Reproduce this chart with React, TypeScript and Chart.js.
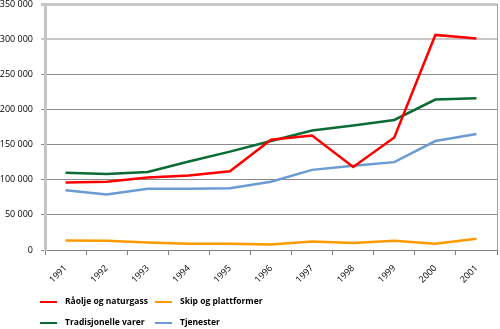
import React, { useEffect, useRef } from "react";
import { Chart, registerables } from "chart.js";

Chart.register(...registerables);

const years = ["1991", "1992", "1993", "1994", "1995", "1996", "1997", "1998", "1999", "2000", "2001"];
const raolje = [96000, 97000, 103000, 106000, 112000, 157000, 163000, 118000, 160000, 306000, 301000];
const skip = [13500, 13000, 10500, 9000, 9000, 8000, 12000, 10000, 13000, 9000, 16000];
const tradisjonelle = [110000, 108000, 111000, 126000, 140000, 155000, 170000, 177000, 185000, 214000, 216000];
const tjenester = [85000, 79000, 87000, 87000, 88000, 97000, 114000, 120000, 125000, 155000, 165000];
const yMax = 350000;
const yStep = 50000;

const seriesNames = ["Råolje og naturgass", "Skip og plattformer", "Tradisjonelle varer", "Tjenester"];
const seriesColors = ["#ff0000", "#ff9900", "#0b6b34", "#6a9bd3"];

const FONT = "'Open Sans', 'DejaVu Sans', sans-serif";

function fmt(v: number): string {
  return String(v).replace(/\B(?=(\d{3})+(?!\d))/g, " ");
}

const legendPlugin = {
  id: "customLegend",
  afterDraw(chart: any) {
    const ctx = chart.ctx;
    const cols = [40, 155];
    const rows = [302, 323];
    ctx.save();
    ctx.font = `bold 8.5px ${FONT}`;
    ctx.textBaseline = "middle";
    ctx.textAlign = "left";
    chart.data.datasets.forEach((ds: any, i: number) => {
      const x = cols[i % 2];
      const y = rows[Math.floor(i / 2)];
      ctx.strokeStyle = ds.borderColor;
      ctx.lineWidth = 2;
      ctx.beginPath();
      ctx.moveTo(x, y);
      ctx.lineTo(x + 17, y);
      ctx.stroke();
      ctx.fillStyle = "#000";
      ctx.fillText(ds.label, x + 25, y);
    });
    const a = chart.chartArea;
    ctx.strokeStyle = "#a0a0a0";
    ctx.lineWidth = 1;
    ctx.beginPath();
    ctx.moveTo(a.right + 0.5, a.top);
    ctx.lineTo(a.right + 0.5, a.bottom);
    ctx.stroke();
    ctx.restore();
  },
};

export default function App() {
  const ref = useRef<HTMLCanvasElement | null>(null);

  useEffect(() => {
    if (!ref.current) return;
    const values = [raolje, skip, tradisjonelle, tjenester];
    const chart = new Chart(ref.current, {
      type: "line",
      data: {
        labels: years,
        datasets: values.map((d, i) => ({
          label: seriesNames[i],
          data: d,
          borderColor: seriesColors[i],
          backgroundColor: seriesColors[i],
          borderWidth: 2.5,
          pointRadius: 0,
          tension: 0,
          fill: false,
        })),
      },
      options: {
        responsive: false,
        animation: false,
        layout: { padding: { top: 4, right: 3, left: 0, bottom: 0 } },
        plugins: {
          legend: { display: false },
          tooltip: { enabled: false },
        },
        scales: {
          x: {
            offset: true,
            afterFit: (scale: any) => {
              scale.height = 79;
              scale.paddingLeft = 0;
              scale.paddingRight = 0;
            },
            grid: {
              drawOnChartArea: false,
              drawTicks: true,
              tickLength: 5,
              color: "#808080",
              offset: true,
            },
            border: { color: "#808080", width: 1 },
            ticks: {
              autoSkip: false,
              minRotation: 45,
              maxRotation: 45,
              color: "#000",
              padding: 8,
              font: { family: FONT, size: 9 },
            },
          },
          y: {
            min: 0,
            max: yMax,
            afterFit: (scale: any) => {
              scale.width = 45;
              scale.paddingTop = 0;
              scale.paddingBottom = 0;
            },
            ticks: {
              stepSize: yStep,
              color: "#000",
              padding: 8,
              font: { family: FONT, size: 9 },
              callback: (v: any) => fmt(Number(v)),
            },
            grid: {
              tickLength: 4,
              color: (c: any) => (c.tick && c.tick.value >= 300000 ? "#c8c8c8" : "#8a8a8a"),
              lineWidth: (c: any) => (c.tick && c.tick.value === 350000 ? 3 : c.tick && c.tick.value === 300000 ? 2 : 1),
            },
            border: { color: "#c4c4c4", width: 3 },
          },
        },
      },
      plugins: [legendPlugin],
    });
    return () => chart.destroy();
  }, []);

  return (
    <div style={{ position: "absolute", left: 0, top: 0, width: 500, height: 329, background: "#fff" }}>
      <canvas ref={ref} width={500} height={329} />
    </div>
  );
}
